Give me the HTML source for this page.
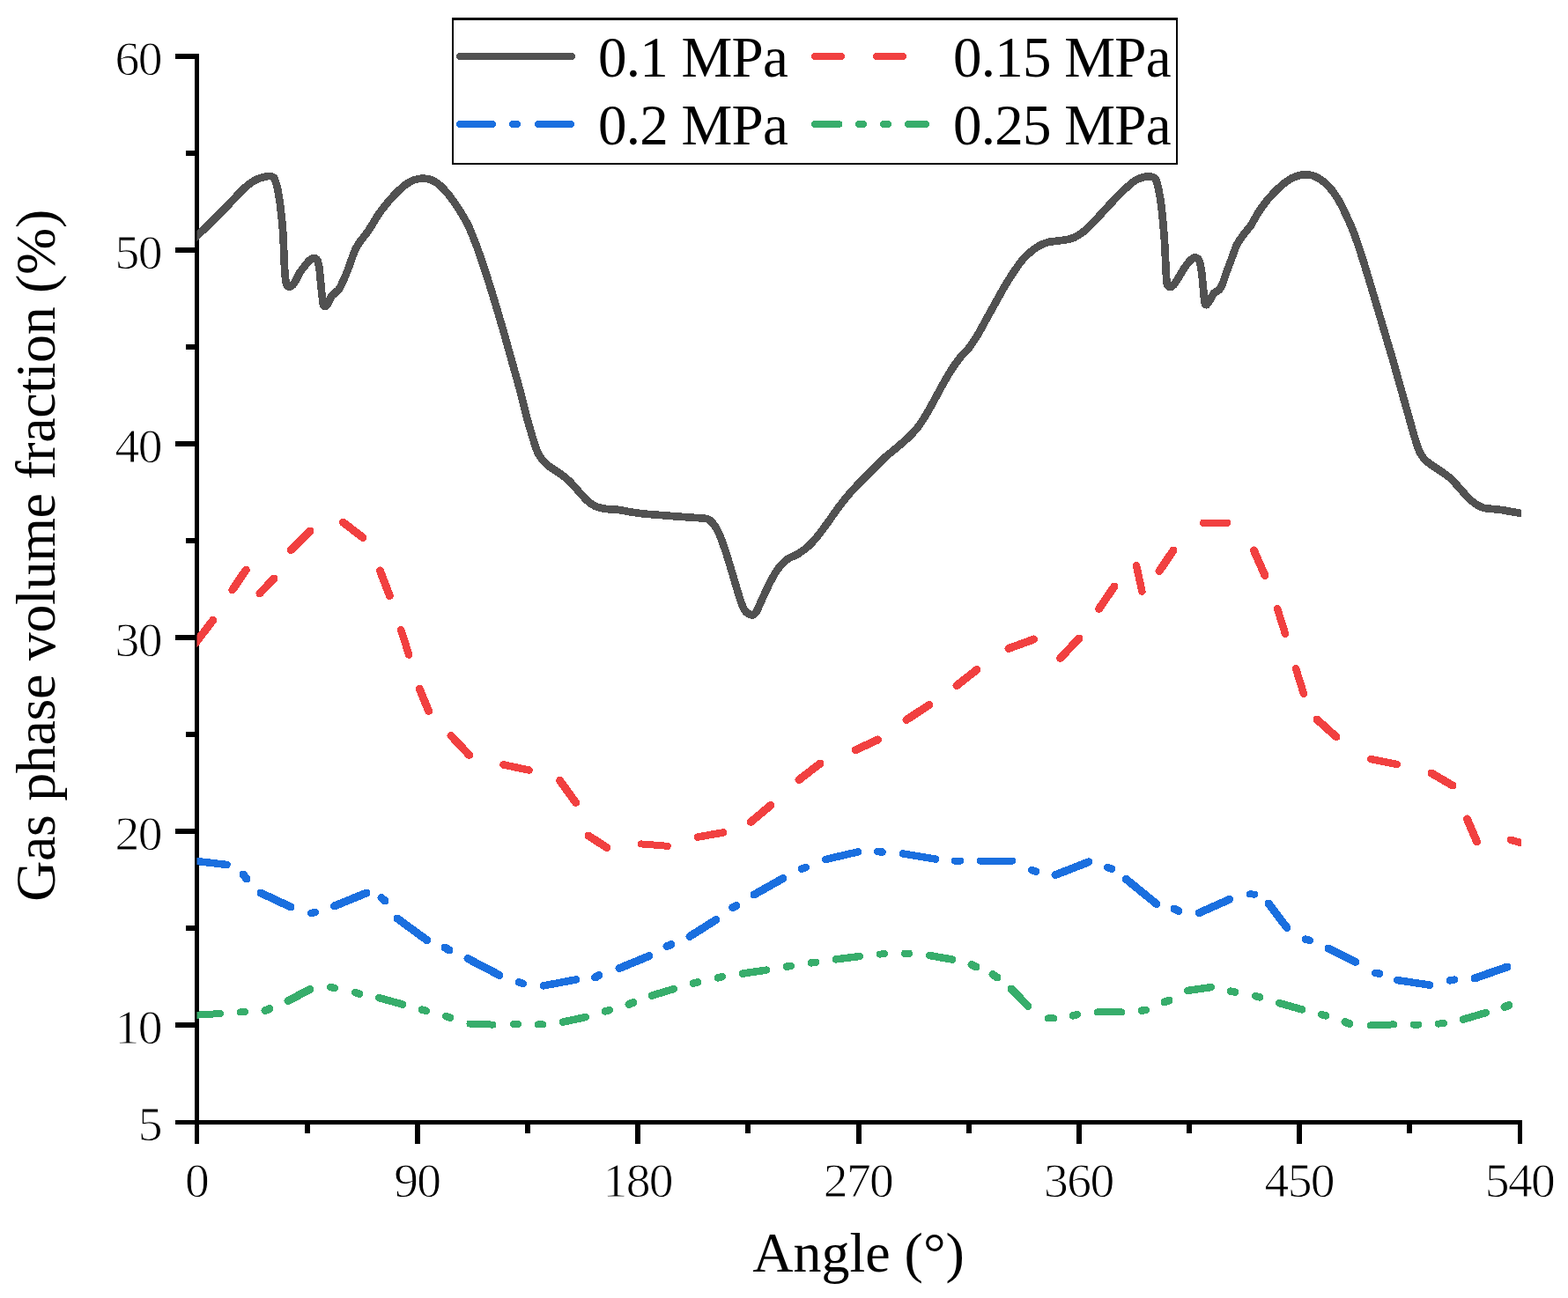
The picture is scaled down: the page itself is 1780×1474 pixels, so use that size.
<!DOCTYPE html>
<html lang="en"><head><meta charset="utf-8"><title>Gas phase volume fraction vs. angle</title>
<style>html,body{margin:0;padding:0;background:#fff}body{width:1780px;height:1474px;overflow:hidden}svg{display:block}text{font-family:"Liberation Serif","Times New Roman",serif;fill:#000}.tk{font-size:54.5px;letter-spacing:-1.6px;stroke:#fff;stroke-width:0.9px}.lb{font-size:64px}.lg{font-size:65px;letter-spacing:-0.75px}</style></head><body>
<svg width="1780" height="1474" viewBox="0 0 1780 1474">
<rect width="1780" height="1474" fill="#fff"/>
<g fill="#000" shape-rendering="crispEdges">
<rect x="221" y="61" width="5" height="1238"/>
<rect x="199" y="1272" width="1529" height="5"/>
<rect x="199" y="61" width="23" height="6"/>
<rect x="199" y="281" width="23" height="6"/>
<rect x="199" y="501" width="23" height="6"/>
<rect x="199" y="721" width="23" height="6"/>
<rect x="199" y="941" width="23" height="6"/>
<rect x="199" y="1161" width="23" height="6"/>
<rect x="211" y="171" width="11" height="6"/>
<rect x="211" y="391" width="11" height="6"/>
<rect x="211" y="611" width="11" height="6"/>
<rect x="211" y="831" width="11" height="6"/>
<rect x="211" y="1051" width="11" height="6"/>
<rect x="471" y="1276" width="6" height="23"/>
<rect x="721" y="1276" width="6" height="23"/>
<rect x="972" y="1276" width="6" height="23"/>
<rect x="1222" y="1276" width="6" height="23"/>
<rect x="1472" y="1276" width="6" height="23"/>
<rect x="1723" y="1276" width="5" height="23"/>
<rect x="346" y="1276" width="6" height="11"/>
<rect x="596" y="1276" width="6" height="11"/>
<rect x="846" y="1276" width="6" height="11"/>
<rect x="1097" y="1276" width="6" height="11"/>
<rect x="1347" y="1276" width="6" height="11"/>
<rect x="1597" y="1276" width="6" height="11"/>
</g>
<g class="tk">
<text transform="translate(182.9 85.0) scale(1.02 1)" text-anchor="end">60</text>
<text transform="translate(182.9 305.0) scale(1.02 1)" text-anchor="end">50</text>
<text transform="translate(182.9 525.0) scale(1.02 1)" text-anchor="end">40</text>
<text transform="translate(182.9 745.0) scale(1.02 1)" text-anchor="end">30</text>
<text transform="translate(182.9 965.0) scale(1.02 1)" text-anchor="end">20</text>
<text transform="translate(182.9 1185.0) scale(1.02 1)" text-anchor="end">10</text>
<text transform="translate(182.9 1295.0) scale(1.02 1)" text-anchor="end">5</text>
<text transform="translate(223.0 1359.0) scale(1.02 1)" text-anchor="middle">0</text>
<text transform="translate(473.3 1359.0) scale(1.02 1)" text-anchor="middle">90</text>
<text transform="translate(723.7 1359.0) scale(1.02 1)" text-anchor="middle">180</text>
<text transform="translate(974.0 1359.0) scale(1.02 1)" text-anchor="middle">270</text>
<text transform="translate(1224.3 1359.0) scale(1.02 1)" text-anchor="middle">360</text>
<text transform="translate(1474.7 1359.0) scale(1.02 1)" text-anchor="middle">450</text>
<text transform="translate(1725.0 1359.0) scale(1.02 1)" text-anchor="middle">540</text>
</g>
<text class="lb" text-anchor="middle" x="974.5" y="1444">Angle (°)</text>
<text class="lb" style="letter-spacing:-0.36px" text-anchor="middle" transform="translate(62 631) rotate(-90)">Gas phase volume fraction (%)</text>
<clipPath id="plot"><rect x="223.5" y="0" width="1503.5" height="1300"/></clipPath>
<g clip-path="url(#plot)" shape-rendering="crispEdges" fill="none" stroke-width="8" stroke-linecap="round" stroke-linejoin="round">
<path d="M214.0 276.5C215.0 275.7 221.8 269.8 223.6 268.1C225.4 266.4 230.4 261.5 232.0 259.9C233.6 258.3 238.2 253.8 240.0 252.0C241.8 250.2 248.0 244.1 250.0 242.1C252.0 240.1 258.0 234.0 260.0 231.9C262.0 229.8 268.0 223.1 270.0 221.0C272.0 218.9 278.0 213.0 280.0 211.3C282.0 209.6 288.0 205.4 290.0 204.4C292.0 203.4 298.4 201.3 300.0 200.9C301.6 200.5 304.9 199.9 306.0 200.0C307.1 200.1 310.1 200.6 311.0 202.0C311.9 203.4 314.3 211.0 315.0 214.0C315.7 217.0 317.5 228.4 318.0 232.0C318.5 235.6 319.6 246.2 320.0 250.0C320.4 253.8 321.4 266.0 321.6 270.0C321.8 274.0 322.2 286.0 322.4 290.0C322.6 294.0 323.1 306.8 323.4 310.0C323.7 313.2 324.5 320.4 325.0 322.0C325.5 323.6 327.3 325.4 328.0 325.6C328.7 325.8 331.2 324.8 332.0 324.0C332.8 323.2 335.2 319.4 336.0 318.0C336.8 316.6 339.0 311.6 340.0 310.0C341.0 308.4 344.9 303.4 346.0 302.0C347.1 300.6 350.0 296.9 351.0 296.0C352.0 295.1 355.1 293.1 356.0 293.0C356.9 292.9 359.4 293.9 360.0 295.0C360.6 296.1 362.0 301.5 362.4 304.0C362.8 306.5 363.7 316.8 364.0 320.0C364.3 323.2 365.3 333.4 365.6 336.0C365.9 338.6 366.7 344.8 367.0 346.0C367.3 347.2 368.5 348.1 369.0 348.0C369.5 347.9 371.3 346.1 372.0 345.0C372.7 343.9 375.2 338.2 376.0 337.0C376.8 335.8 379.1 333.9 380.0 333.0C380.9 332.1 384.0 329.5 385.0 328.0C386.0 326.5 389.0 320.2 390.0 318.0C391.0 315.8 394.0 308.6 395.0 306.0C396.0 303.4 399.1 294.4 400.0 292.0C400.9 289.6 403.1 283.8 404.0 282.0C404.9 280.2 407.8 275.7 409.0 274.0C410.2 272.3 414.7 266.8 416.0 265.0C417.3 263.2 420.6 258.2 422.0 256.0C423.4 253.8 428.2 245.6 430.0 243.0C431.8 240.4 438.0 232.4 440.0 230.0C442.0 227.6 448.0 221.0 450.0 219.0C452.0 217.0 458.0 211.5 460.0 210.0C462.0 208.5 468.0 205.1 470.0 204.4C472.0 203.7 478.0 202.6 480.0 202.6C482.0 202.6 488.0 203.6 490.0 204.4C492.0 205.2 498.0 209.2 500.0 211.0C502.0 212.8 507.9 219.4 510.0 222.0C512.0 224.6 518.3 233.5 520.5 237.0C522.7 240.5 529.9 252.5 532.0 257.0C534.1 261.5 540.0 276.7 542.0 282.0C544.0 287.3 549.5 304.0 551.5 310.0C553.5 316.0 559.5 335.4 561.5 342.0C563.5 348.6 569.5 369.2 571.5 376.0C573.5 382.8 579.1 403.2 581.0 410.0C582.9 416.8 588.8 437.6 590.5 444.0C592.2 450.4 596.5 468.6 598.0 474.0C599.5 479.4 603.8 494.0 605.0 498.0C606.2 502.0 609.4 511.6 610.5 514.0C611.6 516.5 614.6 520.9 616.0 522.5C617.4 524.1 622.0 528.5 624.0 530.0C626.0 531.5 633.8 536.4 636.0 538.0C638.2 539.6 644.0 544.1 646.0 546.0C648.0 547.9 654.0 554.8 656.0 557.0C658.0 559.2 664.0 566.2 666.0 568.0C668.0 569.8 673.8 574.0 676.0 575.0C678.2 576.0 685.6 577.6 688.0 578.0C690.4 578.4 697.2 578.3 700.0 578.6C702.8 578.9 713.0 580.9 716.0 581.4C719.0 581.9 726.6 583.0 730.0 583.4C733.4 583.8 746.0 584.7 750.0 585.0C754.0 585.3 766.0 586.3 770.0 586.6C774.0 586.9 787.0 587.8 790.0 588.0C793.0 588.2 798.4 588.3 800.0 588.6C801.6 588.9 804.8 590.1 806.0 591.0C807.2 591.9 810.8 596.1 812.0 598.0C813.2 599.9 816.9 607.4 818.0 610.0C819.1 612.6 822.3 622.0 823.0 624.0C823.7 626.0 824.2 627.4 825.0 630.0C825.8 632.6 829.8 646.0 831.0 650.0C832.2 654.0 835.9 666.4 837.0 670.0C838.1 673.6 841.0 683.5 842.0 686.0C843.0 688.5 845.8 693.7 847.0 695.0C848.2 696.3 852.8 698.7 854.0 698.6C855.2 698.5 858.0 695.6 859.0 694.0C860.0 692.4 862.9 685.4 864.0 683.0C865.1 680.6 868.7 672.7 870.0 670.0C871.3 667.3 875.6 658.5 877.0 656.0C878.4 653.5 882.3 647.1 884.0 645.0C885.7 642.9 891.8 636.6 894.0 635.0C896.2 633.4 903.6 630.5 906.0 629.0C908.4 627.5 915.8 622.0 918.0 620.0C920.2 618.0 925.8 611.7 928.0 609.0C930.2 606.3 937.6 596.3 940.0 593.0C942.4 589.7 949.6 579.2 952.0 576.0C954.4 572.8 961.6 563.8 964.0 561.0C966.4 558.2 973.4 550.7 976.0 548.0C978.6 545.3 987.2 536.8 990.0 534.0C992.8 531.2 1001.4 522.4 1004.0 520.0C1006.6 517.6 1013.4 512.2 1016.0 510.0C1018.6 507.8 1027.4 500.5 1030.0 498.0C1032.6 495.5 1039.9 487.6 1042.0 485.0C1044.1 482.4 1049.2 474.4 1051.0 471.5C1052.8 468.6 1058.1 458.9 1060.0 455.5C1061.9 452.1 1068.0 440.6 1070.0 437.0C1072.0 433.4 1078.0 423.1 1080.0 420.0C1082.0 416.9 1088.0 408.5 1090.0 406.0C1092.0 403.5 1098.0 397.6 1100.0 395.0C1102.0 392.4 1108.0 383.3 1110.0 380.0C1112.0 376.7 1118.0 365.6 1120.0 362.0C1122.0 358.4 1128.0 347.6 1130.0 344.0C1132.0 340.4 1138.0 329.4 1140.0 326.0C1142.0 322.6 1148.0 313.0 1150.0 310.0C1152.0 307.0 1158.0 298.4 1160.0 296.0C1162.0 293.6 1168.0 287.7 1170.0 286.0C1172.0 284.3 1178.0 280.1 1180.0 279.0C1182.0 277.9 1188.0 275.5 1190.0 275.0C1192.0 274.5 1198.0 273.9 1200.0 273.6C1202.0 273.3 1208.0 272.8 1210.0 272.4C1212.0 272.0 1218.0 270.4 1220.0 269.5C1222.0 268.6 1228.0 264.6 1230.0 263.0C1232.0 261.4 1238.0 255.5 1240.0 253.5C1242.0 251.5 1248.0 245.2 1250.0 243.0C1252.0 240.8 1258.0 234.1 1260.0 232.0C1262.0 229.9 1268.0 223.8 1270.0 221.8C1272.0 219.8 1278.0 213.8 1280.0 212.0C1282.0 210.2 1288.0 205.3 1290.0 204.2C1292.0 203.1 1298.4 201.2 1300.0 200.8C1301.6 200.4 1304.8 200.2 1306.0 200.4C1307.2 200.6 1310.7 201.6 1311.6 203.0C1312.5 204.4 1314.3 210.9 1315.0 214.0C1315.7 217.1 1317.9 230.0 1318.4 234.0C1318.9 238.0 1320.0 250.0 1320.4 254.0C1320.8 258.0 1321.7 270.0 1322.0 274.0C1322.3 278.0 1322.8 290.0 1323.0 294.0C1323.2 298.0 1323.8 311.1 1324.0 314.0C1324.2 316.9 1324.6 321.8 1325.0 323.0C1325.4 324.2 1327.3 325.9 1328.0 326.0C1328.7 326.1 1331.0 325.1 1332.0 324.0C1333.0 322.9 1336.8 316.9 1338.0 315.0C1339.2 313.1 1342.8 306.8 1344.0 305.0C1345.2 303.2 1348.8 298.3 1350.0 297.0C1351.2 295.7 1354.9 292.6 1356.0 292.4C1357.1 292.2 1360.2 293.4 1361.0 295.0C1361.8 296.6 1363.5 304.7 1364.0 308.0C1364.5 311.3 1365.6 324.4 1366.0 328.0C1366.4 331.6 1367.2 342.2 1367.6 344.0C1368.0 345.8 1369.4 346.4 1370.0 346.0C1370.6 345.6 1373.2 341.3 1374.0 340.0C1374.8 338.7 1377.0 334.1 1378.0 333.0C1379.0 331.9 1383.0 330.1 1384.0 329.0C1385.0 327.9 1387.2 323.9 1388.0 322.0C1388.8 320.1 1391.0 312.8 1392.0 310.0C1393.0 307.2 1396.8 297.2 1398.0 294.0C1399.2 290.8 1402.6 280.8 1404.0 278.0C1405.4 275.2 1410.4 268.2 1412.0 266.0C1413.6 263.8 1418.4 258.4 1420.0 256.0C1421.6 253.6 1426.2 244.8 1428.0 242.0C1429.8 239.2 1436.0 230.5 1438.0 228.0C1440.0 225.5 1446.0 219.0 1448.0 217.0C1450.0 215.0 1456.0 209.5 1458.0 208.0C1460.0 206.5 1466.0 202.5 1468.0 201.6C1470.0 200.7 1476.4 198.9 1478.0 198.6C1479.6 198.3 1482.6 198.3 1484.0 198.4C1485.4 198.5 1490.2 199.2 1492.0 200.0C1493.8 200.8 1500.0 204.4 1502.0 206.0C1504.0 207.6 1510.2 213.8 1512.0 216.0C1513.8 218.2 1518.4 225.2 1520.0 228.0C1521.6 230.8 1526.4 240.6 1528.0 244.0C1529.6 247.4 1534.5 258.2 1536.0 262.0C1537.5 265.8 1541.6 277.8 1543.0 282.0C1544.4 286.2 1548.7 299.8 1550.0 304.0C1551.3 308.2 1554.8 320.0 1556.0 324.0C1557.2 328.0 1560.8 339.8 1562.0 344.0C1563.2 348.2 1567.2 361.6 1568.5 366.0C1569.8 370.4 1573.7 383.6 1575.0 388.0C1576.3 392.4 1580.0 404.6 1581.5 410.0C1583.0 415.4 1588.7 435.6 1590.5 442.0C1592.3 448.4 1598.0 468.5 1599.5 474.0C1601.0 479.5 1604.8 493.2 1606.0 497.0C1607.2 500.8 1609.9 509.6 1611.0 512.0C1612.1 514.5 1615.6 519.9 1617.0 521.5C1618.4 523.1 1623.0 526.5 1625.0 528.0C1627.0 529.5 1634.8 534.4 1637.0 536.0C1639.2 537.6 1645.5 542.1 1647.5 544.0C1649.5 545.9 1655.5 552.8 1657.5 555.0C1659.5 557.2 1665.7 564.2 1667.5 566.0C1669.3 567.8 1673.8 571.4 1675.5 572.5C1677.2 573.6 1682.2 576.4 1685.0 577.0C1687.8 577.6 1699.8 578.4 1704.0 579.0C1708.2 579.6 1723.0 582.4 1726.6 583.0C1730.2 583.6 1738.7 585.2 1740.0 585.5" stroke="#515151" stroke-width="8.7" stroke-linecap="butt"/>
<path d="M728.0 958.4L757.8 960.8M1366.0 593.8L1393.2 593.8" stroke="#f14040" stroke-width="8"/>
<path d="M455.2 715.2L464.2 743.6M571.4 868.4L600.6 874.6M792.0 950.6L821.0 945.4M1290.0 642.0L1296.4 671.6M1450.0 691.0L1459.0 719.6M1471.0 759.0L1480.0 787.8M1556.0 862.0L1586.0 868.0M1715.0 953.8L1732.0 958.6" stroke="#f14040" stroke-width="8.5"/>
<path d="M221.0 731.4L241.9 704.2M263.9 669.8L279.3 647.0M294.9 673.8L311.0 657.1M330.1 624.7L352.0 603.1M389.4 593.2L412.0 610.4M431.4 648.0L442.4 676.6M476.2 782.2L486.6 807.4M512.0 835.4L532.6 857.4M635.6 886.4L653.6 911.4M668.0 949.0L689.0 962.6M852.4 933.4L875.0 914.4M907.0 885.6L931.0 867.0M971.4 851.6L996.6 840.0M1029.0 817.4L1055.0 800.4M1086.0 778.6L1109.0 760.4M1145.0 736.4L1173.6 726.0M1203.6 747.4L1225.0 725.0M1247.6 691.4L1265.0 666.0M1316.0 648.6L1332.0 625.0M1423.4 625.0L1436.0 653.6M1495.0 817.0L1517.0 836.8M1625.0 878.0L1649.0 892.0M1665.4 930.0L1676.6 956.0" stroke="#f14040" stroke-width="9"/>
<path d="M1084.0 977.6L1090.0 977.6M1112.6 977.6L1149.0 977.6M1419.0 1015.4L1424.0 1015.6" stroke="#1a6fdf" stroke-width="8"/>
<path d="M221.0 977.7L257.6 982.0M353.0 1037.0L358.0 1036.0M589.0 1115.4L594.0 1117.0M617.0 1119.4L654.0 1112.4M910.0 986.6L915.0 985.0M937.0 976.0L974.0 967.4M996.0 967.0L1001.6 967.6M1025.0 969.4L1062.0 975.6M1171.0 988.0L1176.0 989.6M1257.0 985.0L1262.0 986.6M1482.0 1066.6L1487.0 1068.0M1561.0 1105.0L1566.0 1105.6M1586.0 1113.0L1623.0 1118.6M1646.0 1113.4L1651.0 1112.6" stroke="#1a6fdf" stroke-width="8.5"/>
<path d="M276.0 993.0L280.0 998.0M296.0 1014.0L330.0 1030.0M379.4 1029.0L416.0 1014.0M433.0 1019.6L437.0 1023.0M451.0 1043.0L484.6 1067.6M505.0 1076.0L510.0 1079.0M531.0 1088.6L567.0 1107.4M675.6 1110.0L680.0 1107.6M703.0 1099.6L737.0 1085.6M757.0 1074.6L762.0 1072.6M783.0 1063.4L813.0 1044.4M831.6 1030.6L836.0 1028.6M856.0 1016.0L889.0 997.4M1198.0 993.6L1236.0 978.8M1278.4 998.4L1313.0 1026.6M1333.0 1032.0L1338.0 1034.4M1361.4 1036.6L1395.6 1021.4M1440.0 1026.0L1461.0 1053.6M1508.0 1077.0L1538.8 1092.4M1674.0 1111.0L1711.0 1098.0" stroke="#1a6fdf" stroke-width="9"/>
<path d="M221.0 1152.8L250.0 1151.0M273.0 1149.4L278.0 1149.2M533.4 1162.6L559.5 1163.6M583.0 1163.0L588.0 1163.0M611.0 1163.4L616.0 1163.4M999.0 1083.6L1004.0 1083.2M1027.0 1082.8L1032.0 1082.8M1190.0 1156.4L1196.0 1156.4M1246.0 1149.4L1273.0 1149.4M1556.0 1164.4L1582.0 1163.4M1605.0 1163.6L1610.0 1163.6M1633.0 1162.6L1639.0 1162.0" stroke="#37ad6b" stroke-width="8"/>
<path d="M375.0 1121.0L380.0 1122.0M403.0 1127.0L408.0 1128.6M430.0 1133.0L457.0 1140.6M479.0 1146.6L484.0 1148.0M506.0 1154.0L511.0 1155.6M639.0 1160.6L665.0 1155.0M687.0 1148.4L692.0 1147.0M740.0 1130.6L765.0 1123.0M787.0 1116.6L792.0 1115.4M815.0 1110.4L820.0 1109.0M843.0 1105.6L870.0 1101.6M893.0 1097.6L898.0 1097.0M921.0 1093.4L926.0 1092.8M949.0 1089.4L976.0 1086.0M1055.0 1085.0L1081.0 1089.6M1218.0 1153.4L1223.0 1152.0M1296.0 1147.6L1301.0 1147.0M1348.0 1125.0L1375.0 1121.0M1397.0 1125.6L1402.0 1126.6M1425.0 1131.0L1430.0 1132.4M1452.0 1139.0L1478.0 1146.4M1500.0 1152.0L1505.0 1153.4M1661.0 1157.6L1687.0 1150.0" stroke="#37ad6b" stroke-width="8.5"/>
<path d="M301.0 1147.6L306.0 1145.6M327.0 1136.6L352.0 1123.4M714.0 1140.4L719.0 1138.4M1103.0 1095.6L1108.0 1098.0M1127.0 1106.6L1132.0 1110.0M1148.0 1123.0L1167.0 1142.6M1322.0 1138.0L1327.0 1136.0M1527.0 1160.6L1532.0 1162.6M1708.0 1143.4L1713.0 1141.6" stroke="#37ad6b" stroke-width="9"/>
</g>
<g shape-rendering="crispEdges"><rect x="513" y="20" width="824" height="167" fill="#000"/><rect x="515" y="23" width="820" height="162" fill="#fff"/></g>
<g fill="none" stroke-width="8" stroke-linecap="round" shape-rendering="crispEdges">
<path d="M522 64H649" stroke="#515151"/>
<path d="M925 64H955M995 64H1025" stroke="#f14040"/>
<path d="M522 141H559M582 141H587M611 141H648" stroke="#1a6fdf"/>
<path d="M925 141H952.3M975 141H980M1003 141H1008M1031 141H1051" stroke="#37ad6b"/>
</g>
<g class="lg">
<text x="679" y="87">0.1 MPa</text>
<text x="1082" y="87">0.15 MPa</text>
<text x="679" y="164">0.2 MPa</text>
<text x="1082" y="164">0.25 MPa</text>
</g>
</svg></body></html>
